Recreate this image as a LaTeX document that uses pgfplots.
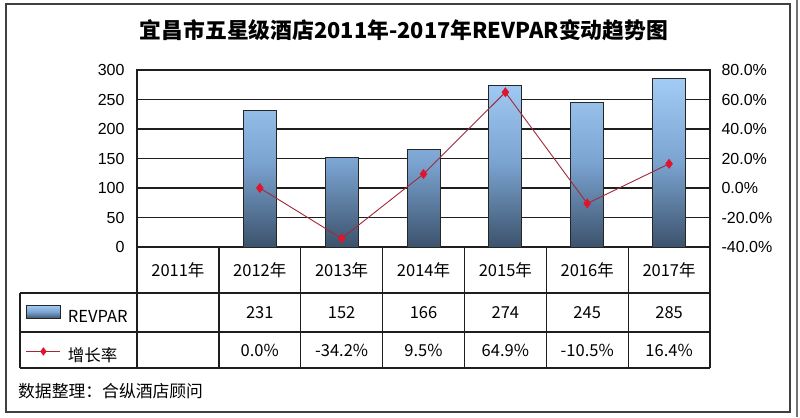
\documentclass[border=0pt]{standalone}
\usepackage{pgfplots}
\pgfplotsset{compat=1.18}
\usepackage{fontspec}
\setmainfont{Liberation Sans}
\newfontfamily\cjk{Noto Sans CJK SC}
\definecolor{barTop}{HTML}{A2CBF5}
\definecolor{barMid}{HTML}{7AA3D0}
\definecolor{barBot}{HTML}{3C526C}
\definecolor{lineRed}{HTML}{A02A38}
\definecolor{markRed}{HTML}{E0142A}
\definecolor{gridc}{HTML}{1E1E1E}
\begin{document}
\begin{tikzpicture}[x=1bp,y=1bp]
\path[use as bounding box, fill=white] (0,0) rectangle (800,417);
\draw[line width=1.3bp, black!75] (6,5) rectangle (790,413);
\draw[line width=1.2bp, black!55] (797,0) -- (797,417);

\begin{axis}[
  at={(137bp,170bp)}, anchor=south west,
  width=573bp, height=177bp, scale only axis,
  xmin=-0.5, xmax=6.5, ymin=0, ymax=300,
  ytick={0,50,...,300}, xtick=\empty,
  ytick pos=left,
  ymajorgrids, grid style={gridc, line width=1.1bp},
  axis line style={gridc, line width=1.1bp},
  major tick length=0pt,
  yticklabel style={font=\fontsize{16bp}{18bp}\selectfont, xshift=-9bp},
  /pgf/number format/assume math mode=true,
  clip=false,
  legend style={at={(axis description cs:-0.1937,-0.3277)}, anchor=north west,
    draw=none, fill=none, inner sep=0pt, outer sep=0pt, row sep=22.5bp, column sep=7bp,
    font=\cjk\fontsize{16.5bp}{18bp}\selectfont,
    nodes={inner sep=0pt, outer sep=0pt, text height=12bp, text depth=3bp}},
  legend cell align=left,
]
\addplot[ybar, bar width=33bp, draw=black!85, line width=0.9bp,
  top color=barTop, bottom color=barBot, middle color=barMid,
  legend image code/.code={\draw[draw=black!85, line width=0.9bp, top color=barTop, bottom color=barBot, middle color=barMid] (0bp,-0.5bp) rectangle (34bp,12.5bp);}]
  coordinates {(1,231) (2,152) (3,166) (4,274) (5,245) (6,285)};
\addlegendentry{REVPAR}
\addlegendimage{legend image code/.code={\draw[lineRed, line width=0.9bp, mark=diamond*, mark size=3.5bp, mark options={fill=markRed, draw=markRed}, mark repeat=2, mark phase=2] plot coordinates {(0bp,6bp) (17bp,6bp) (34bp,6bp)};}}
\addlegendentry{增长率}
\end{axis}

\begin{axis}[
  at={(137bp,170bp)}, anchor=south west,
  width=573bp, height=177bp, scale only axis,
  xmin=-0.5, xmax=6.5, ymin=-40, ymax=80,
  ytick={-40,-20,...,80},
  axis y line*=right, axis x line=none,
  axis line style={gridc, line width=1.1bp},
  major tick length=0pt,
  yticklabel style={font=\fontsize{16bp}{18bp}\selectfont, xshift=8bp},
  yticklabel={\pgfmathprintnumber[fixed,fixed zerofill,precision=1]{\tick}\%},
  /pgf/number format/assume math mode=true,
]
\addplot[lineRed, line width=0.9bp, mark=diamond*, mark size=4.3bp,
  mark options={fill=markRed, draw=markRed}]
  coordinates {(1,0) (2,-34.2) (3,9.5) (4,64.9) (5,-10.5) (6,16.4)};
\end{axis}

% table grid
\begin{scope}[line width=1.3bp, gridc]
\draw (20,124) -- (710,124);
\draw (20,85) -- (710,85);
\draw (20,49) -- (710,49);
\draw (20,124) -- (20,49);
\foreach \k in {0,...,7} {\draw ({137+\k*573/7},170) -- ({137+\k*573/7},49);}
\end{scope}
\begin{scope}[font=\cjk\fontsize{16.5bp}{18bp}\selectfont]
\foreach \k/\lab in {0/2011年,1/2012年,2/2013年,3/2014年,4/2015年,5/2016年,6/2017年}
  {\node at ({137+(\k+0.5)*573/7},147) {\lab};}
\foreach \k/\v in {1/231,2/152,3/166,4/274,5/245,6/285}
  {\node at ({137+(\k+0.5)*573/7},104.5) {\v};}
\foreach \k/\v in {1/0.0\%,2/-34.2\%,3/9.5\%,4/64.9\%,5/-10.5\%,6/16.4\%}
  {\node at ({137+(\k+0.5)*573/7},67) {\v};}
\end{scope}
\node at (404,387) {\cjk\bfseries\fontsize{21.8bp}{24bp}\selectfont 宜昌市五星级酒店2011年-2017年REVPAR变动趋势图};
\node[anchor=west, inner sep=0pt] at (18,26) {\cjk\fontsize{16.8bp}{18bp}\selectfont 数据整理：合纵酒店顾问};
\end{tikzpicture}
\end{document}
